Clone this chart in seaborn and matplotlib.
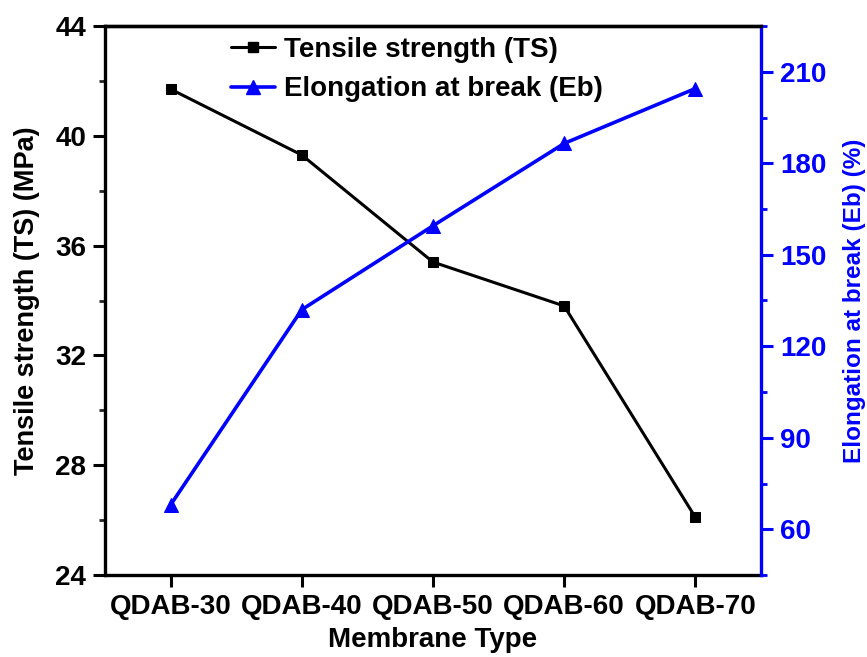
import matplotlib
matplotlib.use("Agg")
import matplotlib.pyplot as plt
import seaborn as sns
import pandas as pd
from matplotlib.ticker import MultipleLocator
from matplotlib.lines import Line2D

membranes = ["QDAB-30", "QDAB-40", "QDAB-50", "QDAB-60", "QDAB-70"]
tensile_strength = [41.7, 39.3, 35.4, 33.8, 26.1]
elongation = [68, 132, 159.5, 186.5, 204.5]

sns.set_theme(style="ticks")
plt.rcParams['font.family'] = ['Liberation Sans', 'DejaVu Sans']
plt.rcParams['font.weight'] = 'bold'
plt.rcParams['text.color'] = 'black'
plt.rcParams['axes.labelcolor'] = 'black'

df = pd.DataFrame({"Membrane": membranes, "TS": tensile_strength, "Eb": elongation})

fig = plt.figure(figsize=(8.67, 6.57), dpi=100)
ax = fig.add_axes([105/867, 1-575/657, (761-105)/867, (575-26)/657])
ax2 = ax.twinx()

sns.lineplot(data=df, x="Membrane", y="TS", ax=ax, color="black", marker="s",
             markersize=7, markeredgecolor="black", linewidth=2.2, sort=False)
sns.lineplot(data=df, x="Membrane", y="Eb", ax=ax2, color="#0000ff", marker="^",
             markersize=10, markeredgecolor="#0000ff", linewidth=2.6, sort=False)

ax.set_xlim(-0.5, 4.5)
ax.set_ylim(24, 44)
ax2.set_ylim(45, 225)
ax.yaxis.set_major_locator(MultipleLocator(4))
ax.yaxis.set_minor_locator(MultipleLocator(2))
ax2.yaxis.set_major_locator(MultipleLocator(30))
ax2.yaxis.set_minor_locator(MultipleLocator(15))

fs = 20
ax.set_xlabel("Membrane Type", fontsize=fs, fontweight="bold", labelpad=5,
              color="black")
ax.set_ylabel("Tensile strength (TS) (MPa)", fontsize=19.5, fontweight="bold",
              labelpad=11, color="black")
ax2.set_ylabel("Elongation at break (Eb) (%)", fontsize=17.5, fontweight="bold",
               color="#0000ff", labelpad=12)

ax.tick_params(axis="both", which="major", direction="out", length=8.5, width=2.2,
               labelsize=fs, colors="black", pad=5)
ax.tick_params(axis="y", which="minor", direction="out", length=4, width=2.0)
ax.tick_params(axis="x", which="minor", length=0)
ax2.tick_params(axis="y", which="major", direction="out", length=8.5, width=2.2,
                labelsize=fs, colors="#0000ff", pad=5)
ax2.tick_params(axis="y", which="minor", direction="out", length=4, width=2.0,
                colors="#0000ff")
for lab in ax.get_xticklabels() + ax.get_yticklabels() + ax2.get_yticklabels():
    lab.set_fontweight("bold")

for s in ["left", "bottom", "top"]:
    ax.spines[s].set_linewidth(2.4)
    ax.spines[s].set_color("black")
ax.spines["right"].set_visible(False)
for s in ["left", "bottom"]:
    ax2.spines[s].set_visible(False)
ax2.spines["right"].set_linewidth(2.4)
ax2.spines["right"].set_color("#0000ff")
ax2.spines["top"].set_visible(True)
ax2.spines["top"].set_linewidth(2.4)
ax2.spines["top"].set_color("black")

handles = [
    Line2D([], [], color="black", marker="s", markersize=7, linewidth=2.2),
    Line2D([], [], color="#0000ff", marker="^", markersize=10, linewidth=2.6),
]
labels = ["Tensile strength (TS)", "Elongation at break (Eb)"]
leg = ax2.legend(handles, labels, loc="upper left", bbox_to_anchor=(0.175, 1.0),
                 frameon=False, fontsize=fs, handlelength=1.6, handletextpad=0.3,
                 labelspacing=0.48, borderaxespad=0)
for t in leg.get_texts():
    t.set_fontweight("bold")
    t.set_color("black")

fig.savefig("out.png", dpi=100)
